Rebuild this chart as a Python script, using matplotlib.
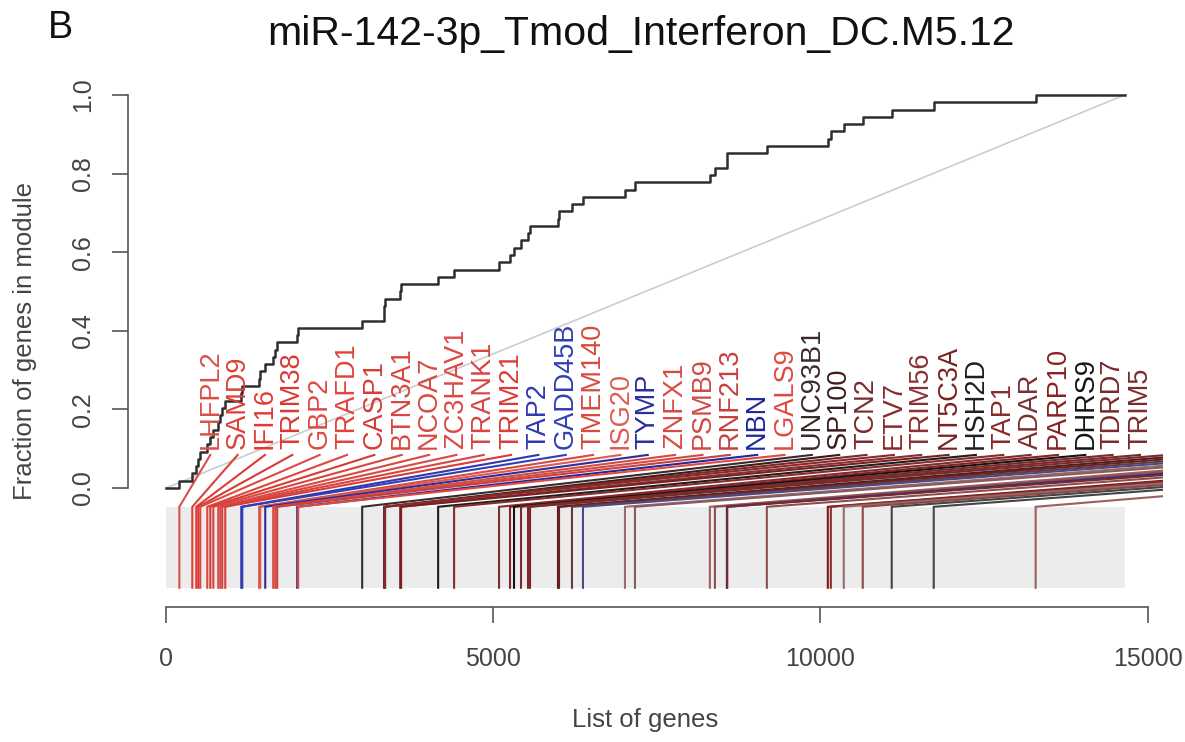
import numpy as np
import matplotlib
matplotlib.use("Agg")
import matplotlib.pyplot as plt
from matplotlib.patches import Rectangle

plt.rcParams['font.family'] = ['Liberation Sans', 'DejaVu Sans']

# ---------------- data ----------------
panel_letter = "B"
title = "miR-142-3p_Tmod_Interferon_DC.M5.12"
x_label = "List of genes"
y_label = "Fraction of genes in module"
n_total = 14650  # length of the ranked gene list

x_ticks = [0, 5000, 10000, 15000]
x_tick_labels = ["0", "5000", "10000", "15000"]
y_ticks = [0.0, 0.2, 0.4, 0.6, 0.8, 1.0]
y_tick_labels = ["0.0", "0.2", "0.4", "0.6", "0.8", "1.0"]

# ranks of the module genes in the list (54 genes)
gene_ranks = [199, 397, 458, 489, 519, 626, 672, 718, 794, 825,
              855, 901, 1146, 1161, 1420, 1436, 1512, 1634, 1665, 1695,
              2001, 2016, 2994, 3330, 3335, 3345, 3574, 3589, 4155, 4399,
              5086, 5254, 5315, 5422, 5529, 5560, 5987, 6003, 6201, 6369,
              7011, 7164, 8309, 8386, 8569, 8575, 9180, 10112, 10158, 10356,
              10646, 11089, 11731, 13289]

# visible labels (first 35 genes in rank order)
gene_names = ["LHFPL2", "SAMD9", "IFI16", "TRIM38", "GBP2", "TRAFD1", "CASP1",
              "BTN3A1", "NCOA7", "ZC3HAV1", "TRANK1", "TRIM21", "TAP2", "GADD45B",
              "TMEM140", "ISG20", "TYMP", "ZNFX1", "PSMB9", "RNF213", "NBN",
              "LGALS9", "UNC93B1", "SP100", "TCN2", "ETV7", "TRIM56", "NT5C3A",
              "HSH2D", "TAP1", "ADAR", "PARP10", "DHRS9", "TDRD7", "TRIM5"]

gene_colors = ["#d9504a", "#dc4038", "#e23a32", "#d83a34", "#dc4a42", "#e0443c",
               "#d63c36", "#d8463e", "#d84a42", "#da4a44", "#d64642", "#d83c38",
               "#3038b0", "#3040b4", "#d84a40", "#e05a50", "#2a2e9c", "#d84a40",
               "#d04a46", "#c84040", "#20289a", "#e04a40", "#3a2a2a", "#3a1c1c",
               "#7a2a2a", "#8a2a2a", "#8a3030", "#7a2020", "#1e1e1e", "#8a2a2a",
               "#7a3030", "#8a2020", "#141414", "#7a2a2a", "#7a2a2a",
               "#7a2a2a", "#4a2020", "#6a2020", "#6a3a3a", "#4a4a8a", "#9a6a6a",
               "#8a5a5a", "#9a6060", "#8a5050", "#2a2a8a", "#7a2a2a", "#8a5050",
               "#7a1a1a", "#8a2a2a", "#9a6a6a", "#8a4a4a", "#444444", "#444444",
               "#9a6060"]

# ---------------- layout ----------------
W, H = 1185, 742
fig = plt.figure(figsize=(W / 100, H / 100), dpi=100)
ax = fig.add_axes([128 / W, 1 - 607 / H, (1163 - 128) / W, (607 - 75.3) / H])
ax.set_xlim(-0.04 * n_total, 1.04 * n_total)
ax.set_ylim(-0.303, 1.050)

bar_bottom, bar_top = -0.254, -0.048
line_top, label_base = 0.084, 0.100
label_start, label_step = 672, 418

# barcode background
ax.add_patch(Rectangle((0, bar_bottom), n_total, bar_top - bar_bottom,
                       facecolor="#ececec", edgecolor="none", zorder=0))

# diagonal reference
ax.plot([0, n_total], [0, 1], color="#cccccc", lw=1.2, zorder=1)

# running fraction of module genes
ranks = np.array(gene_ranks, dtype=float)
frac = np.arange(1, len(ranks) + 1) / len(ranks)
xs = np.concatenate([[0], ranks, [n_total]])
ys = np.concatenate([[0], frac, [1.0]])
ax.step(xs, ys, where="post", color="#2e2e2e", lw=1.8, zorder=3)

# barcode + connectors
x_right = ax.get_xlim()[1]
for i, (r, c) in enumerate(zip(gene_ranks, gene_colors)):
    lx = label_start + i * label_step
    ax.plot([r, r, lx], [bar_bottom, bar_top, line_top], color=c, lw=1.5,
            solid_joinstyle="miter", zorder=2)
    if i < len(gene_names) and lx <= x_right:
        ax.text(lx, label_base, gene_names[i], rotation=90, ha="center",
                va="bottom", color=c, fontsize=19.5, zorder=4)

# axes styling (R-like)
for s in ["top", "right"]:
    ax.spines[s].set_visible(False)
ax.spines["left"].set_bounds(0, 1)
ax.spines["bottom"].set_bounds(0, 15000)
for s in ["left", "bottom"]:
    ax.spines[s].set_color("#555555")
    ax.spines[s].set_linewidth(1.2)
ax.set_xticks(x_ticks)
ax.set_xticklabels(x_tick_labels)
ax.set_yticks(y_ticks)
ax.set_yticklabels(y_tick_labels)
ax.tick_params(axis="both", length=11.5, width=1.2, color="#555555",
               labelcolor="#444444", labelsize=18)
ax.tick_params(axis="x", pad=17)
ax.tick_params(axis="y", pad=12)
plt.setp(ax.get_yticklabels(), rotation=90, va="center")

fig.text(25 / W, 1 - 341 / H, y_label, rotation=90, ha="center", va="center",
         fontsize=18.5, color="#444444")
fig.text(645 / W, 1 - 720 / H, x_label, ha="center", va="center",
         fontsize=18.5, color="#444444")
fig.text(641 / W, 1 - 34 / H, title, ha="center", va="center",
         fontsize=29.5, color="#111111")
fig.text(60 / W, 1 - 28 / H, panel_letter, ha="center", va="center",
         fontsize=27, color="#111111")

fig.savefig("out.png", dpi=100)
